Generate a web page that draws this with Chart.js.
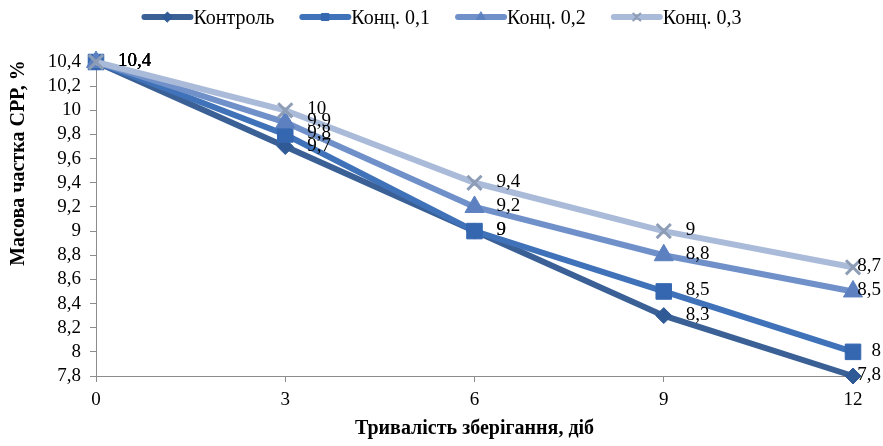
<!DOCTYPE html>
<html>
<head>
<meta charset="utf-8">
<script src="https://cdn.jsdelivr.net/npm/chart.js@4.4.0/dist/chart.umd.min.js"></script>
<style>
  html, body { margin: 0; padding: 0; background: #fff; }
  #wrap { width: 883px; height: 446px; }
</style>
</head>
<body>
<div id="wrap"><canvas id="chart" width="883" height="446"></canvas></div>
<script>
// дані з графіка
var days = ['0', '3', '6', '9', '12'];
var seriesNames = ['Контроль', 'Конц. 0,1', 'Конц. 0,2', 'Конц. 0,3'];
var control = [10.4, 9.7, 9.0, 8.3, 7.8];
var conc01 = [10.4, 9.8, 9.0, 8.5, 8.0];
var conc02 = [10.4, 9.9, 9.2, 8.8, 8.5];
var conc03 = [10.4, 10.0, 9.4, 9.0, 8.7];
var yMin = 7.8, yMax = 10.4, yStep = 0.2;

var FONT = "'Liberation Serif', 'Times New Roman', serif";

function fmt(v) {
    return String(Math.round(v * 10) / 10).replace('.', ',');
}

var styles = [
    { line: '#3A6096', mark: '#2F5A95', point: 'rectRot', r: 8 },
    { line: '#3F72B8', mark: '#3567B1', point: 'rect', r: 11 },
    { line: '#7090C9', mark: '#5C80C0', point: 'triangle', r: 11 },
    { line: '#AABBDA', mark: '#8E9DB6', point: 'crossRot', r: 10 }
];
var values = [control, conc01, conc02, conc03];

var datasets = [];
for (var i = 0; i < values.length; i++) {
    datasets.push({
        label: seriesNames[i],
        data: values[i],
        borderColor: styles[i].line,
        borderWidth: 6,
        pointStyle: styles[i].point,
        pointRadius: styles[i].r,
        pointHoverRadius: styles[i].r,
        pointBackgroundColor: styles[i].mark,
        pointBorderColor: styles[i].mark,
        pointBorderWidth: styles[i].point == 'crossRot' ? 3 : 1,
        tension: 0,
        fill: false,
        clip: false,
        order: values.length - i
    });
}

// підписи значень, легенда і назва осі Y
var extras = {
    id: 'extras',
    afterDatasetsDraw: function(chart) {
        var ctx = chart.ctx;
        ctx.save();
        ctx.font = '19px ' + FONT;
        ctx.fillStyle = '#000';
        ctx.textBaseline = 'middle';
        ctx.textAlign = 'left';
        chart.data.datasets.forEach(function(ds, di) {
            var meta = chart.getDatasetMeta(di);
            meta.data.forEach(function(pt, pi) {
                var txt = fmt(ds.data[pi]);
                var w = ctx.measureText(txt).width;
                var x = Math.min(pt.x + 22, chart.width - w - 2);
                ctx.fillText(txt, x, pt.y - 1);
            });
        });
        ctx.restore();
    },
    afterDraw: function(chart) {
        var ctx = chart.ctx;
        ctx.save();
        // легенда
        ctx.font = '20px ' + FONT;
        var lineLen = 52, gap = 25;
        var total = 0;
        seriesNames.forEach(function(n, i) {
            total += lineLen + ctx.measureText(n).width + (i < seriesNames.length - 1 ? gap : 0);
        });
        var x = (chart.width - total) / 2;
        var y = 17;
        seriesNames.forEach(function(n, i) {
            var s = styles[i];
            ctx.strokeStyle = s.line;
            ctx.lineWidth = 6;
            ctx.lineCap = 'round';
            ctx.beginPath();
            ctx.moveTo(x + 3, y);
            ctx.lineTo(x + lineLen - 3, y);
            ctx.stroke();
            ctx.fillStyle = s.mark;
            ctx.strokeStyle = s.mark;
            ctx.lineWidth = s.point == 'crossRot' ? 2 : 1;
            Chart.helpers.drawPoint(ctx, { pointStyle: s.point, radius: 5, rotation: 0, borderWidth: ctx.lineWidth }, x + lineLen / 2, y);
            ctx.fillStyle = '#000';
            ctx.textAlign = 'left';
            ctx.textBaseline = 'middle';
            ctx.fillText(n, x + lineLen, y + 2);
            x += lineLen + ctx.measureText(n).width + gap;
        });
        // назва осі Y
        ctx.font = 'bold 20px ' + FONT;
        ctx.translate(19, 163);
        ctx.rotate(-Math.PI / 2);
        ctx.textAlign = 'center';
        ctx.textBaseline = 'middle';
        ctx.fillText('Масова частка СРР, %', 0, 0);
        ctx.restore();
    }
};

new Chart(document.getElementById('chart'), {
    type: 'line',
    data: { labels: days, datasets: datasets },
    plugins: [extras],
    options: {
        responsive: false,
        animation: false,
        devicePixelRatio: 1,
        layout: { padding: { top: 62, right: 30, left: 0, bottom: 0 } },
        plugins: {
            legend: { display: false },
            tooltip: { enabled: false }
        },
        scales: {
            x: {
                type: 'category',
                offset: false,
                afterFit: function(scale) { scale.height = 70; },
                grid: { drawOnChartArea: false, drawTicks: true, tickLength: 6, color: '#8c8c8c' },
                border: { color: '#8c8c8c', width: 1 },
                ticks: { color: '#000', padding: 7, autoSkip: false, maxRotation: 0, font: { family: FONT, size: 19 } },
                title: {
                    display: true,
                    text: 'Тривалість зберігання, діб',
                    color: '#000',
                    font: { family: FONT, size: 20, weight: 'bold' },
                    padding: { top: 6, bottom: 5 }
                }
            },
            y: {
                min: yMin,
                max: yMax,
                afterFit: function(scale) { scale.width = 96; },
                grid: { drawOnChartArea: false, drawTicks: true, tickLength: 6, color: '#8c8c8c' },
                border: { color: '#8c8c8c', width: 1 },
                ticks: {
                    stepSize: yStep,
                    autoSkip: false,
                    color: '#000',
                    padding: 9,
                    font: { family: FONT, size: 19 },
                    callback: function(v) { return fmt(v); }
                }
            }
        }
    }
});
</script>
</body>
</html>
